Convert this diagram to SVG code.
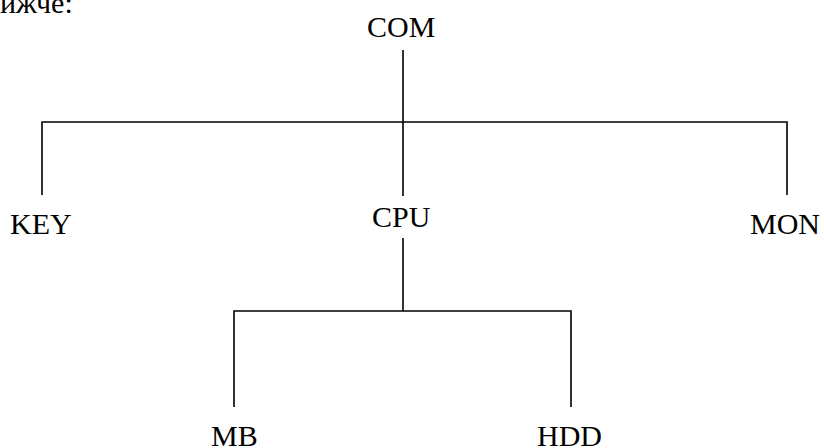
<svg xmlns="http://www.w3.org/2000/svg" width="824" height="448" viewBox="0 0 824 448">
<style>
text{font-family:"Liberation Serif","Times New Roman",serif;font-size:30px;fill:#000}
.c{fill:none;stroke:#000;stroke-width:1.6}
</style>
<rect width="824" height="448" fill="#fff"/>
<text x="0" y="13">ижче:</text>
<g id="connectors">
<path class="c" d="M403 50V196"/>
<path class="c" d="M42 195V122H787V195"/>
<path class="c" d="M403 238V311"/>
<path class="c" d="M234 407V311H571V407"/>
</g>
<g id="COM"><text x="367" y="37">COM</text></g>
<g id="KEY"><text x="10" y="234">KEY</text></g>
<g id="CPU"><text x="372" y="227">CPU</text></g>
<g id="MON"><text x="750" y="234">MON</text></g>
<g id="MB"><text x="211" y="446">MB</text></g>
<g id="HDD"><text x="537" y="446">HDD</text></g>
</svg>
